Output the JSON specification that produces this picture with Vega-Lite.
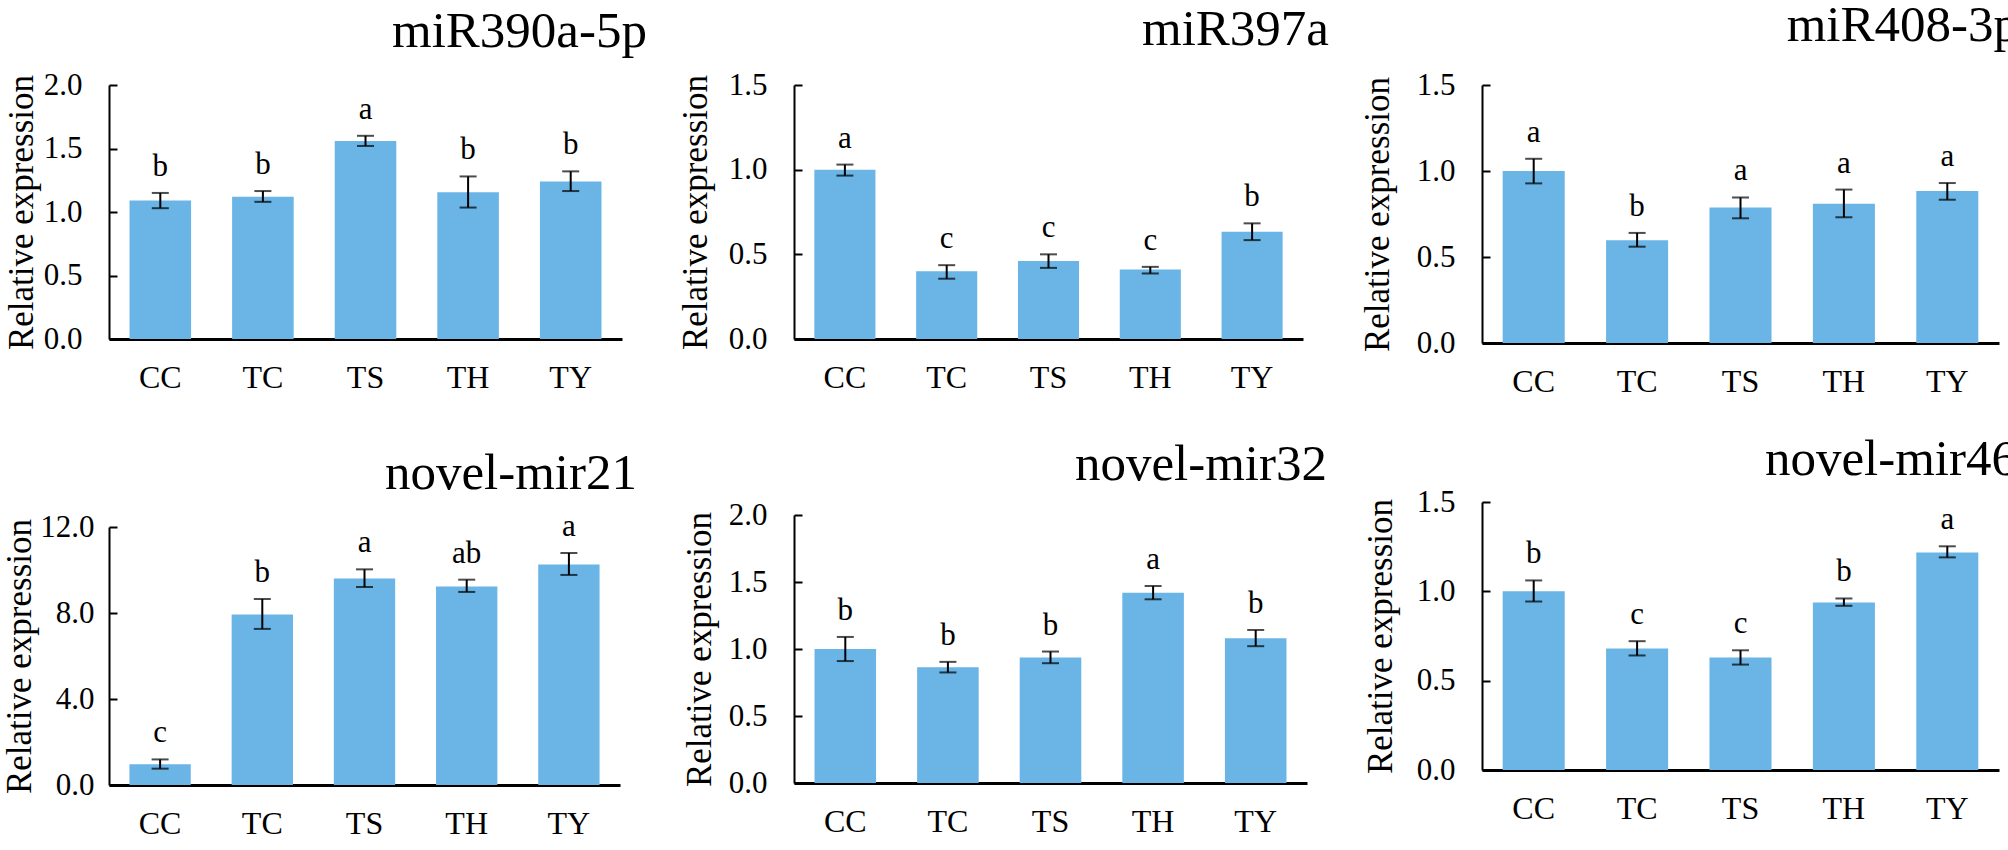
{
"$schema":"https://vega.github.io/schema/vega-lite/v6.json",
"padding":{"left":2,"top":0,"right":0,"bottom":0},
"background":"white",
"datasets":{"expr":[
{"gene":"miR390a-5p","group":"CC","value":1.09,"lo":1.03,"hi":1.15,"letter":"b"},
{"gene":"miR390a-5p","group":"TC","value":1.12,"lo":1.08,"hi":1.165,"letter":"b"},
{"gene":"miR390a-5p","group":"TS","value":1.56,"lo":1.52,"hi":1.60,"letter":"a"},
{"gene":"miR390a-5p","group":"TH","value":1.155,"lo":1.035,"hi":1.28,"letter":"b"},
{"gene":"miR390a-5p","group":"TY","value":1.24,"lo":1.165,"hi":1.32,"letter":"b"},
{"gene":"miR397a","group":"CC","value":1.0,"lo":0.965,"hi":1.03,"letter":"a"},
{"gene":"miR397a","group":"TC","value":0.40,"lo":0.356,"hi":0.436,"letter":"c"},
{"gene":"miR397a","group":"TS","value":0.46,"lo":0.42,"hi":0.50,"letter":"c"},
{"gene":"miR397a","group":"TH","value":0.41,"lo":0.387,"hi":0.426,"letter":"c"},
{"gene":"miR397a","group":"TY","value":0.634,"lo":0.584,"hi":0.683,"letter":"b"},
{"gene":"miR408-3p","group":"CC","value":1.0,"lo":0.928,"hi":1.071,"letter":"a"},
{"gene":"miR408-3p","group":"TC","value":0.598,"lo":0.56,"hi":0.64,"letter":"b"},
{"gene":"miR408-3p","group":"TS","value":0.788,"lo":0.725,"hi":0.846,"letter":"a"},
{"gene":"miR408-3p","group":"TH","value":0.81,"lo":0.731,"hi":0.892,"letter":"a"},
{"gene":"miR408-3p","group":"TY","value":0.883,"lo":0.833,"hi":0.93,"letter":"a"},
{"gene":"novel-mir21","group":"CC","value":0.97,"lo":0.76,"hi":1.19,"letter":"c"},
{"gene":"novel-mir21","group":"TC","value":7.93,"lo":7.26,"hi":8.65,"letter":"b"},
{"gene":"novel-mir21","group":"TS","value":9.6,"lo":9.21,"hi":10.03,"letter":"a"},
{"gene":"novel-mir21","group":"TH","value":9.23,"lo":8.98,"hi":9.55,"letter":"ab"},
{"gene":"novel-mir21","group":"TY","value":10.26,"lo":9.77,"hi":10.79,"letter":"a"},
{"gene":"novel-mir32","group":"CC","value":1.0,"lo":0.91,"hi":1.09,"letter":"b"},
{"gene":"novel-mir32","group":"TC","value":0.864,"lo":0.825,"hi":0.904,"letter":"b"},
{"gene":"novel-mir32","group":"TS","value":0.937,"lo":0.894,"hi":0.981,"letter":"b"},
{"gene":"novel-mir32","group":"TH","value":1.42,"lo":1.371,"hi":1.47,"letter":"a"},
{"gene":"novel-mir32","group":"TY","value":1.08,"lo":1.021,"hi":1.142,"letter":"b"},
{"gene":"novel-mir46","group":"CC","value":1.0,"lo":0.943,"hi":1.061,"letter":"b"},
{"gene":"novel-mir46","group":"TC","value":0.68,"lo":0.641,"hi":0.721,"letter":"c"},
{"gene":"novel-mir46","group":"TS","value":0.63,"lo":0.59,"hi":0.67,"letter":"c"},
{"gene":"novel-mir46","group":"TH","value":0.938,"lo":0.919,"hi":0.96,"letter":"b"},
{"gene":"novel-mir46","group":"TY","value":1.218,"lo":1.19,"hi":1.252,"letter":"a"}
]},
"data":{"name":"expr"},
"spacing":31,
"hconcat":[
{"vconcat":[
{"width":513,"height":254,
 "title":{"text":"miR390a-5p","dx":25,"offset":11},
 "transform":[{"filter":"datum.gene === 'miR390a-5p'"}],
 "encoding":{"x":{"field":"group","type":"nominal","sort":["CC","TC","TS","TH","TY"],"title":null,"scale":{"paddingInner":0.4,"paddingOuter":0.2}}},
 "layer":[
  {"mark":{"type":"bar","color":"#6ab4e6"},"encoding":{"y":{"field":"value","type":"quantitative","title":"Relative expression","scale":{"domain":[0,2],"nice":false},"axis":{"values":[0,0.5,1,1.5,2],"format":".1f","titlePadding":4}}}},
  {"mark":{"type":"rule","color":"black","strokeWidth":2},"encoding":{"y":{"field":"lo","type":"quantitative","title":"Relative expression","scale":{"domain":[0,2],"nice":false}},"y2":{"field":"hi"}}},
  {"mark":{"type":"tick","color":"black","thickness":2,"size":17},"encoding":{"y":{"field":"lo","type":"quantitative","title":"Relative expression","scale":{"domain":[0,2],"nice":false}}}},
  {"mark":{"type":"tick","color":"black","thickness":2,"size":17},"encoding":{"y":{"field":"hi","type":"quantitative","title":"Relative expression","scale":{"domain":[0,2],"nice":false}}}},
  {"mark":{"type":"text","font":"Liberation Serif","fontSize":31,"dy":-17,"baseline":"alphabetic","color":"black"},"encoding":{"y":{"field":"hi","type":"quantitative","title":"Relative expression","scale":{"domain":[0,2],"nice":false}},"text":{"field":"letter"}}}
 ]},
{"width":511,"height":258,
 "title":{"text":"novel-mir21","dx":17,"offset":11},
 "transform":[{"filter":"datum.gene === 'novel-mir21'"}],
 "encoding":{"x":{"field":"group","type":"nominal","sort":["CC","TC","TS","TH","TY"],"title":null,"scale":{"paddingInner":0.4,"paddingOuter":0.2}}},
 "layer":[
  {"mark":{"type":"bar","color":"#6ab4e6"},"encoding":{"y":{"field":"value","type":"quantitative","title":"Relative expression","scale":{"domain":[0,12],"nice":false},"axis":{"values":[0,4,8,12],"format":".1f","titlePadding":2,"labelPadding":23}}}},
  {"mark":{"type":"rule","color":"black","strokeWidth":2},"encoding":{"y":{"field":"lo","type":"quantitative","title":"Relative expression","scale":{"domain":[0,12],"nice":false}},"y2":{"field":"hi"}}},
  {"mark":{"type":"tick","color":"black","thickness":2,"size":17},"encoding":{"y":{"field":"lo","type":"quantitative","title":"Relative expression","scale":{"domain":[0,12],"nice":false}}}},
  {"mark":{"type":"tick","color":"black","thickness":2,"size":17},"encoding":{"y":{"field":"hi","type":"quantitative","title":"Relative expression","scale":{"domain":[0,12],"nice":false}}}},
  {"mark":{"type":"text","font":"Liberation Serif","fontSize":31,"dy":-17,"baseline":"alphabetic","color":"black"},"encoding":{"y":{"field":"hi","type":"quantitative","title":"Relative expression","scale":{"domain":[0,12],"nice":false}},"text":{"field":"letter"}}}
 ]}
],"spacing":188,"bounds":"flush"},
{"vconcat":[
{"width":509,"height":254,
 "title":{"text":"miR397a","dx":26,"offset":13},
 "transform":[{"filter":"datum.gene === 'miR397a'"}],
 "encoding":{"x":{"field":"group","type":"nominal","sort":["CC","TC","TS","TH","TY"],"title":null,"scale":{"paddingInner":0.4,"paddingOuter":0.2}}},
 "layer":[
  {"mark":{"type":"bar","color":"#6ab4e6"},"encoding":{"y":{"field":"value","type":"quantitative","title":"Relative expression","scale":{"domain":[0,1.5],"nice":false},"axis":{"values":[0,0.5,1,1.5],"format":".1f","titlePadding":15}}}},
  {"mark":{"type":"rule","color":"black","strokeWidth":2},"encoding":{"y":{"field":"lo","type":"quantitative","title":"Relative expression","scale":{"domain":[0,1.5],"nice":false}},"y2":{"field":"hi"}}},
  {"mark":{"type":"tick","color":"black","thickness":2,"size":17},"encoding":{"y":{"field":"lo","type":"quantitative","title":"Relative expression","scale":{"domain":[0,1.5],"nice":false}}}},
  {"mark":{"type":"tick","color":"black","thickness":2,"size":17},"encoding":{"y":{"field":"hi","type":"quantitative","title":"Relative expression","scale":{"domain":[0,1.5],"nice":false}}}},
  {"mark":{"type":"text","font":"Liberation Serif","fontSize":31,"dy":-17,"baseline":"alphabetic","color":"black"},"encoding":{"y":{"field":"hi","type":"quantitative","title":"Relative expression","scale":{"domain":[0,1.5],"nice":false}},"text":{"field":"letter"}}}
 ]},
{"width":513,"height":268,
 "title":{"text":"novel-mir32","dx":20,"offset":8},
 "transform":[{"filter":"datum.gene === 'novel-mir32'"}],
 "encoding":{"x":{"field":"group","type":"nominal","sort":["CC","TC","TS","TH","TY"],"title":null,"scale":{"paddingInner":0.4,"paddingOuter":0.2}}},
 "layer":[
  {"mark":{"type":"bar","color":"#6ab4e6"},"encoding":{"y":{"field":"value","type":"quantitative","title":"Relative expression","scale":{"domain":[0,2],"nice":false},"axis":{"values":[0,0.5,1,1.5,2],"format":".1f","titlePadding":11}}}},
  {"mark":{"type":"rule","color":"black","strokeWidth":2},"encoding":{"y":{"field":"lo","type":"quantitative","title":"Relative expression","scale":{"domain":[0,2],"nice":false}},"y2":{"field":"hi"}}},
  {"mark":{"type":"tick","color":"black","thickness":2,"size":17},"encoding":{"y":{"field":"lo","type":"quantitative","title":"Relative expression","scale":{"domain":[0,2],"nice":false}}}},
  {"mark":{"type":"tick","color":"black","thickness":2,"size":17},"encoding":{"y":{"field":"hi","type":"quantitative","title":"Relative expression","scale":{"domain":[0,2],"nice":false}}}},
  {"mark":{"type":"text","font":"Liberation Serif","fontSize":31,"dy":-17,"baseline":"alphabetic","color":"black"},"encoding":{"y":{"field":"hi","type":"quantitative","title":"Relative expression","scale":{"domain":[0,2],"nice":false}},"text":{"field":"letter"}}}
 ]}
],"spacing":176,"bounds":"flush"},
{"vconcat":[
{"width":517,"height":258,
 "title":{"text":"miR408-3p","dx":20,"offset":17},
 "transform":[{"filter":"datum.gene === 'miR408-3p'"}],
 "encoding":{"x":{"field":"group","type":"nominal","sort":["CC","TC","TS","TH","TY"],"title":null,"scale":{"paddingInner":0.4,"paddingOuter":0.2}}},
 "layer":[
  {"mark":{"type":"bar","color":"#6ab4e6"},"encoding":{"y":{"field":"value","type":"quantitative","title":"Relative expression","scale":{"domain":[0,1.5],"nice":false},"axis":{"values":[0,0.5,1,1.5],"format":".1f","titlePadding":21}}}},
  {"mark":{"type":"rule","color":"black","strokeWidth":2},"encoding":{"y":{"field":"lo","type":"quantitative","title":"Relative expression","scale":{"domain":[0,1.5],"nice":false}},"y2":{"field":"hi"}}},
  {"mark":{"type":"tick","color":"black","thickness":2,"size":17},"encoding":{"y":{"field":"lo","type":"quantitative","title":"Relative expression","scale":{"domain":[0,1.5],"nice":false}}}},
  {"mark":{"type":"tick","color":"black","thickness":2,"size":17},"encoding":{"y":{"field":"hi","type":"quantitative","title":"Relative expression","scale":{"domain":[0,1.5],"nice":false}}}},
  {"mark":{"type":"text","font":"Liberation Serif","fontSize":31,"dy":-17,"baseline":"alphabetic","color":"black"},"encoding":{"y":{"field":"hi","type":"quantitative","title":"Relative expression","scale":{"domain":[0,1.5],"nice":false}},"text":{"field":"letter"}}}
 ]},
{"width":517,"height":268,
 "title":{"text":"novel-mir46","dx":18,"offset":0},
 "transform":[{"filter":"datum.gene === 'novel-mir46'"}],
 "encoding":{"x":{"field":"group","type":"nominal","sort":["CC","TC","TS","TH","TY"],"title":null,"scale":{"paddingInner":0.4,"paddingOuter":0.2}}},
 "layer":[
  {"mark":{"type":"bar","color":"#6ab4e6"},"encoding":{"y":{"field":"value","type":"quantitative","title":"Relative expression","scale":{"domain":[0,1.5],"nice":false},"axis":{"values":[0,0.5,1,1.5],"format":".1f","titlePadding":18}}}},
  {"mark":{"type":"rule","color":"black","strokeWidth":2},"encoding":{"y":{"field":"lo","type":"quantitative","title":"Relative expression","scale":{"domain":[0,1.5],"nice":false}},"y2":{"field":"hi"}}},
  {"mark":{"type":"tick","color":"black","thickness":2,"size":17},"encoding":{"y":{"field":"lo","type":"quantitative","title":"Relative expression","scale":{"domain":[0,1.5],"nice":false}}}},
  {"mark":{"type":"tick","color":"black","thickness":2,"size":17},"encoding":{"y":{"field":"hi","type":"quantitative","title":"Relative expression","scale":{"domain":[0,1.5],"nice":false}}}},
  {"mark":{"type":"text","font":"Liberation Serif","fontSize":31,"dy":-17,"baseline":"alphabetic","color":"black"},"encoding":{"y":{"field":"hi","type":"quantitative","title":"Relative expression","scale":{"domain":[0,1.5],"nice":false}},"text":{"field":"letter"}}}
 ]}
],"spacing":159,"bounds":"flush"}
],
"config":{
 "view":{"stroke":null},
 "title":{"anchor":"end","frame":"group","font":"Liberation Serif","fontSize":51,"fontWeight":"normal","color":"black","baseline":"alphabetic"},
 "axis":{"grid":false,"domainColor":"black","tickColor":"black","labelColor":"black","titleColor":"black","labelFont":"Liberation Serif","titleFont":"Liberation Serif","titleFontWeight":"normal","labelOverlap":false,"labelFlush":false,"labelBound":false},
 "axisY":{"domainWidth":2,"tickWidth":2,"tickSize":-8,"labelFontSize":31,"labelPadding":35,"titleFontSize":35},
 "axisX":{"domainWidth":3,"ticks":false,"tickSize":0,"labelFontSize":32,"labelPadding":23,"labelAngle":0}
}
}
